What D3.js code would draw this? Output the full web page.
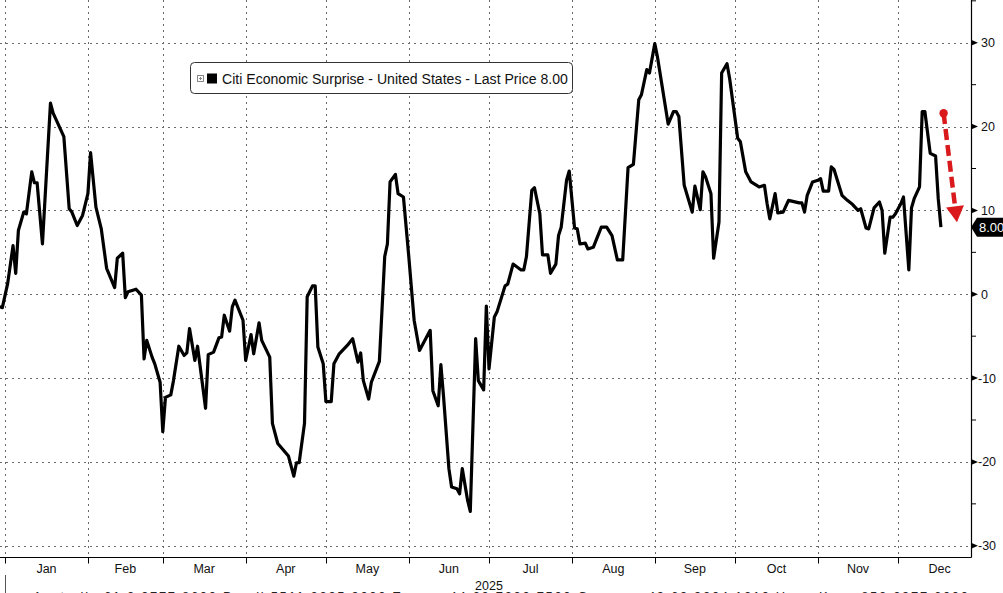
<!DOCTYPE html>
<html><head><meta charset="utf-8">
<script src="https://cdn.jsdelivr.net/npm/d3@7"></script>
<style>
html,body{margin:0;padding:0;background:#fff;overflow:hidden;}
svg{display:block;}
</style></head><body>
<svg id="chart" width="1003" height="593"></svg>
<script>
// ---------- DATA ----------
const dates = [
"2024-12-30","2024-12-31","2025-01-02","2025-01-04","2025-01-05","2025-01-06","2025-01-08","2025-01-09","2025-01-11","2025-01-12",
"2025-01-13","2025-01-15","2025-01-18","2025-01-19","2025-01-23","2025-01-25","2025-01-26","2025-01-28","2025-01-30","2025-02-01",
"2025-02-02","2025-02-04","2025-02-06","2025-02-08","2025-02-11","2025-02-12","2025-02-14","2025-02-15","2025-02-16","2025-02-19",
"2025-02-21","2025-02-22","2025-02-23","2025-02-25","2025-02-26","2025-02-28","2025-03-01","2025-03-02","2025-03-04","2025-03-05",
"2025-03-07","2025-03-09","2025-03-10","2025-03-11","2025-03-13","2025-03-14","2025-03-17","2025-03-18","2025-03-20","2025-03-22",
"2025-03-23","2025-03-24","2025-03-26","2025-03-27","2025-03-28","2025-03-31","2025-04-01","2025-04-03","2025-04-04","2025-04-06",
"2025-04-07","2025-04-10","2025-04-11","2025-04-13","2025-04-17","2025-04-19","2025-04-20","2025-04-21","2025-04-23","2025-04-24",
"2025-04-26","2025-04-27","2025-04-28","2025-04-30","2025-05-01","2025-05-03","2025-05-04","2025-05-06","2025-05-09","2025-05-11",
"2025-05-13","2025-05-14","2025-05-15","2025-05-17","2025-05-18","2025-05-21","2025-05-23","2025-05-24","2025-05-25","2025-05-27",
"2025-05-28","2025-05-30","2025-06-01","2025-06-03","2025-06-05","2025-06-09","2025-06-10","2025-06-12","2025-06-13","2025-06-14",
"2025-06-16","2025-06-17","2025-06-19","2025-06-20","2025-06-21","2025-06-23","2025-06-24","2025-06-26","2025-06-27","2025-06-29",
"2025-06-30","2025-07-01","2025-07-03","2025-07-04","2025-07-07","2025-07-08","2025-07-10","2025-07-13","2025-07-14","2025-07-15",
"2025-07-17","2025-07-18","2025-07-20","2025-07-21","2025-07-23","2025-07-24","2025-07-26","2025-07-27","2025-07-28","2025-07-30",
"2025-07-31","2025-08-02","2025-08-03","2025-08-04","2025-08-06","2025-08-07","2025-08-09","2025-08-12","2025-08-14","2025-08-16",
"2025-08-18","2025-08-20","2025-08-22","2025-08-24","2025-08-26","2025-08-27","2025-08-29","2025-08-30","2025-09-01","2025-09-02",
"2025-09-06","2025-09-08","2025-09-09","2025-09-10","2025-09-12","2025-09-15","2025-09-16","2025-09-18","2025-09-19","2025-09-20",
"2025-09-22","2025-09-23","2025-09-25","2025-09-26","2025-09-28","2025-09-29","2025-10-02","2025-10-03","2025-10-05","2025-10-07",
"2025-10-10","2025-10-12","2025-10-13","2025-10-14","2025-10-16","2025-10-17","2025-10-19","2025-10-21","2025-10-25","2025-10-26",
"2025-10-27","2025-10-28","2025-10-30","2025-11-01","2025-11-02","2025-11-03","2025-11-05","2025-11-06","2025-11-07","2025-11-10",
"2025-11-12","2025-11-14","2025-11-16","2025-11-17","2025-11-19","2025-11-20","2025-11-22","2025-11-24","2025-11-25","2025-11-26",
"2025-11-28","2025-11-29","2025-11-30","2025-12-02","2025-12-03","2025-12-05","2025-12-06","2025-12-07","2025-12-09","2025-12-10",
"2025-12-11","2025-12-13","2025-12-15","2025-12-16","2025-12-17"
];
const values = [
-1.5,-1.6,1.3,5.8,2.5,7.6,9.8,9.6,14.6,13.3,
13.3,6.0,22.8,21.6,18.8,10.2,9.8,8.2,9.4,12.0,
16.9,10.4,7.8,3.1,0.8,4.3,4.9,-0.4,0.3,0.6,
-0.1,-7.7,-5.5,-7.5,-8.3,-10.5,-16.4,-12.3,-12.0,-10.3,
-6.2,-7.3,-7.0,-4.1,-7.9,-6.2,-13.6,-7.2,-6.9,-5.2,
-5.1,-2.5,-4.4,-1.5,-0.7,-3.1,-7.9,-4.8,-7.1,-3.4,
-5.5,-7.5,-15.4,-17.8,-19.3,-21.7,-20.1,-20.1,-15.4,-0.3,
1.0,1.0,-6.3,-8.3,-12.8,-12.8,-8.3,-7.1,-6.1,-5.3,
-8.1,-7.0,-10.3,-12.5,-10.5,-8.0,4.5,6.0,13.4,14.3,
12.0,11.6,4.5,-3.1,-6.7,-4.3,-11.5,-13.3,-8.4,-12.2,
-20.8,-23.0,-23.2,-23.8,-20.8,-24.6,-25.9,-5.3,-10.3,-11.4,
-1.4,-8.9,-2.7,-2.1,1.0,1.2,3.6,2.9,2.9,4.5,
12.4,12.7,9.6,4.7,4.7,2.5,3.6,7.0,8.0,13.6,
14.7,7.9,7.8,6.0,6.1,5.4,5.6,8.0,8.0,7.0,
4.1,4.1,15.1,15.5,23.2,23.8,26.8,26.4,29.9,28.3,
20.3,21.8,21.8,21.2,13.0,9.8,12.9,10.1,14.6,14.0,
12.0,4.3,8.6,26.4,27.5,25.7,18.6,18.2,14.6,13.4,
12.8,13.0,10.8,9.0,12.0,9.7,9.8,11.2,10.9,10.9,
9.8,11.8,13.4,13.6,13.8,12.3,12.3,15.2,14.9,11.8,
11.2,10.7,10.0,10.2,7.9,7.8,10.3,11.0,10.0,4.9,
9.2,9.2,9.6,10.8,11.6,2.9,10.3,11.4,12.8,21.8,
21.8,16.8,16.5,11.4,8.0
];
const monthLabels = ["Jan","Feb","Mar","Apr","May","Jun","Jul","Aug","Sep","Oct","Nov","Dec"];
const yTickValues = [-30,-25,-20,-15,-10,-5,0,5,10,15,20,25,30,35];
const yearLabel = "2025";
const seriesName = "Citi Economic Surprise - United States - Last Price 8.00";
const lastPriceLabel = "8.00";
const lastPrice = 8.00;
const arrowStart = {date:"2025-12-18", value:21.6};
const arrowEnd = {date:"2025-12-23", value:8.6};
const footerText = "Australia 61 2 9777 8600 Brazil 5511 2395 9000 Europe 44 20 7330 7500 Germany 49 69 9204 1210 Hong Kong 852 2977 6000";

// ---------- LAYOUT ----------
const W = 1003, H = 593;
const plotLeft = 0, plotRight = 971, plotTop = 0, plotBottom = 557.5;
const parse = d3.timeParse("%Y-%m-%d");
const data = dates.map((d,i)=>({date:parse(d), value:values[i]}));

const x = d3.scaleTime()
  .domain([new Date(2024,11,30,3), new Date(2025,11,28,6)])
  .range([plotLeft, plotRight]);
const y = d3.scaleLinear().domain([-31.4, 35.1]).range([plotBottom, plotTop]);

const svg = d3.select("#chart");
const font = "'Liberation Sans', Arial, sans-serif";

// grid
const months = d3.timeMonth.range(new Date(2025,0,1), new Date(2025,11,2));
const grid = svg.append("g").attr("stroke","#6a6a6a").attr("stroke-width",1).attr("stroke-dasharray","2,4");
grid.selectAll("line.h").data(yTickValues.filter(v=>v%10===0)).join("line")
  .attr("x1",plotLeft).attr("x2",plotRight)
  .attr("y1",d=>Math.round(y(d))+0.5).attr("y2",d=>Math.round(y(d))+0.5);
grid.selectAll("line.v").data(months).join("line")
  .attr("x1",d=>Math.round(x(d))+0.5).attr("x2",d=>Math.round(x(d))+0.5)
  .attr("y1",plotTop).attr("y2",plotBottom);

// axes lines
svg.append("line").attr("x1",plotLeft).attr("x2",plotRight+0.5).attr("y1",plotBottom).attr("y2",plotBottom)
  .attr("stroke","#000").attr("stroke-width",1.2);
svg.append("line").attr("x1",plotRight+0.5).attr("x2",plotRight+0.5).attr("y1",0).attr("y2",plotBottom)
  .attr("stroke","#000").attr("stroke-width",1.2);

// bottom ticks and labels
svg.append("g").selectAll("line").data(months).join("line")
  .attr("x1",d=>Math.round(x(d))+0.5).attr("x2",d=>Math.round(x(d))+0.5)
  .attr("y1",plotBottom).attr("y2",plotBottom+6).attr("stroke","#000");
svg.append("g").selectAll("text").data(months).join("text")
  .attr("x",d=>(x(d)+x(d3.timeMonth.offset(d,1)))/2)
  .attr("y",573)
  .attr("text-anchor","middle").attr("font-family",font).attr("font-size",12.5).attr("fill","#111")
  .text((d,i)=>monthLabels[i]);
svg.append("text").attr("x",(x(months[6])+x(months[6]))/2).attr("y",589.5)
  .attr("text-anchor","middle").attr("font-family",font).attr("font-size",12.5).attr("fill","#111")
  .text(yearLabel);
svg.append("line").attr("x1",Math.round(x(months[0]))+0.5).attr("x2",Math.round(x(months[0]))+0.5)
  .attr("y1",575).attr("y2",593).attr("stroke","#555");

// right axis ticks
const ra = svg.append("g");
yTickValues.forEach(v=>{
  const yy = y(v);
  if (v%10===0){
    ra.append("path").attr("d",`M${plotRight},${yy-3}L${plotRight+7},${yy}L${plotRight},${yy+3}Z`).attr("fill","#000");
    ra.append("text").attr("x",v<0?plotRight+7:plotRight+10).attr("y",yy+4.5)
      .attr("font-family",font).attr("font-size",12.5).attr("fill","#111").text(v);
  } else {
    ra.append("line").attr("x1",plotRight).attr("x2",plotRight+5).attr("y1",yy).attr("y2",yy).attr("stroke","#000");
  }
});

// series line
svg.append("path").datum(data)
  .attr("fill","none").attr("stroke","#000").attr("stroke-width",3.2)
  .attr("stroke-linejoin","round").attr("stroke-linecap","butt")
  .attr("d",d3.line().x(d=>x(d.date)).y(d=>y(d.value)));

// last price tag
const ty = y(lastPrice);
svg.append("path").attr("d",`M${plotRight},${ty}L${plotRight+6},${ty-9.5}L${W+5},${ty-9.5}L${W+5},${ty+9.5}L${plotRight+6},${ty+9.5}Z`)
  .attr("fill","#000");
svg.append("text").attr("x",plotRight+8).attr("y",ty+4.8).attr("font-family",font).attr("font-size",13)
  .attr("fill","#fff").text(lastPriceLabel);

// red dashed arrow annotation
const red = "#d9191c";
const s = [x(parse(arrowStart.date)), y(arrowStart.value)];
const t = [x(parse(arrowEnd.date)), y(arrowEnd.value)];
const dx = t[0]-s[0], dy = t[1]-s[1], L = Math.hypot(dx,dy);
const ux = dx/L, uy = dy/L, nx = -uy, ny = ux;
const headLen = 16, headHalf = 9;
const b = [t[0]-headLen*ux, t[1]-headLen*uy];
svg.append("line").attr("x1",s[0]).attr("y1",s[1]).attr("x2",b[0]+2*ux).attr("y2",b[1]+2*uy)
  .attr("stroke",red).attr("stroke-width",4.5).attr("stroke-dasharray","11,5");
svg.append("circle").attr("cx",s[0]).attr("cy",s[1]).attr("r",4.2).attr("fill",red);
svg.append("path").attr("d",`M${t[0]},${t[1]}L${b[0]+headHalf*nx},${b[1]+headHalf*ny}L${b[0]-headHalf*nx},${b[1]-headHalf*ny}Z`)
  .attr("fill",red);

// legend
const lg = svg.append("g");
lg.append("rect").attr("x",190.5).attr("y",62.5).attr("width",382).attr("height",31).attr("rx",4)
  .attr("fill","#fff").attr("stroke","#333").attr("stroke-width",1);
lg.append("rect").attr("x",197.5).attr("y",75.5).attr("width",6).attr("height",6).attr("fill","#fff").attr("stroke","#888");
lg.append("path").attr("d","M199,78.5H202M200.5,77V80").attr("stroke","#888").attr("stroke-width",1);
lg.append("rect").attr("x",207).attr("y",73.5).attr("width",10).attr("height",10).attr("fill","#000");
const lt = lg.append("text").attr("x",222).attr("y",83.5).attr("font-family",font).attr("font-size",13)
  .attr("fill","#111").text(seriesName);
const lw = lt.node().getComputedTextLength();
lt.attr("font-size", 13*346/lw);

// footer (cut off at bottom)
svg.append("text").attr("x",33).attr("y",600.5).attr("font-family",font).attr("font-size",13)
  .attr("fill","#222").attr("textLength",935).attr("lengthAdjust","spacing").text(footerText);
</script>
</body></html>
